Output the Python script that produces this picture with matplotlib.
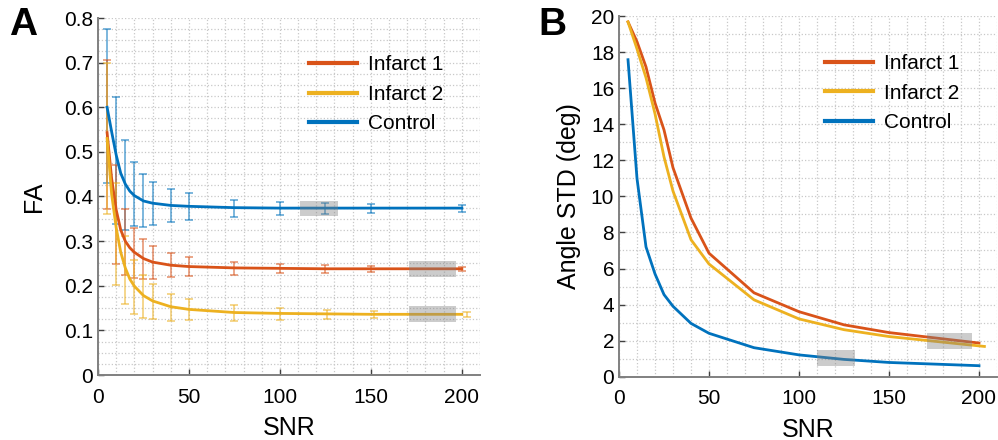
import matplotlib
matplotlib.use('Agg')
import matplotlib.pyplot as plt
from matplotlib.lines import Line2D
from matplotlib.patches import Rectangle
from matplotlib.ticker import MultipleLocator, FuncFormatter

plt.rcParams['font.family'] = ['Liberation Sans', 'DejaVu Sans']

# colours (MATLAB default order)
c_inf1 = '#D95319'
c_inf2 = '#EDB120'
c_ctrl = '#0072BD'

# ---- panel A data: FA vs SNR ----
snr_fit = [5, 7.5, 10, 12.5, 15, 17.5, 20, 25, 30, 40, 50, 75, 100, 125, 150, 200]
fa_fit_inf1 = [0.543, 0.44, 0.37, 0.325, 0.300, 0.285, 0.275, 0.261, 0.253, 0.246, 0.243, 0.240, 0.239, 0.238, 0.238, 0.238]
fa_fit_inf2 = [0.530, 0.405, 0.330, 0.275, 0.240, 0.215, 0.199, 0.178, 0.166, 0.153, 0.147, 0.140, 0.138, 0.137, 0.136, 0.136]
fa_fit_ctrl = [0.600, 0.545, 0.493, 0.452, 0.428, 0.412, 0.402, 0.390, 0.385, 0.380, 0.378, 0.375, 0.374, 0.374, 0.374, 0.374]

snr_pts = [5, 10, 15, 20, 25, 30, 40, 50, 75, 100, 125, 150, 200]
snr_pts_inf2 = [5, 10, 15, 20, 25, 30, 40, 50, 75, 100, 126, 152, 203]
fa_mean_inf1 = [0.540, 0.360, 0.299, 0.274, 0.260, 0.2525, 0.2465, 0.243, 0.2395, 0.2385, 0.238, 0.2375, 0.237]
fa_err_inf1 = [0.167, 0.111, 0.074, 0.056, 0.045, 0.0375, 0.0275, 0.022, 0.0145, 0.011, 0.0093, 0.0077, 0.005]
fa_mean_inf2 = [0.530, 0.316, 0.235, 0.197, 0.176, 0.1645, 0.152, 0.147, 0.139, 0.137, 0.1362, 0.136, 0.1355]
fa_err_inf2 = [0.170, 0.115, 0.077, 0.060, 0.048, 0.040, 0.030, 0.024, 0.017, 0.013, 0.010, 0.008, 0.0065]
fa_mean_ctrl = [0.603, 0.480, 0.426, 0.405, 0.391, 0.385, 0.379, 0.377, 0.374, 0.373, 0.373, 0.373, 0.373]
fa_err_ctrl = [0.173, 0.142, 0.100, 0.072, 0.060, 0.048, 0.037, 0.030, 0.019, 0.0145, 0.012, 0.0095, 0.0075]

# ---- panel B data: angle STD vs SNR ----
snr_b = [5, 10, 15, 20, 25, 30, 40, 50, 75, 100, 125, 150, 200]
snr_b_inf2 = [5, 10, 15, 20, 25, 30, 40, 50, 75, 100, 125, 150, 203]
std_inf1 = [19.7, 18.6, 17.2, 15.2, 13.7, 11.6, 8.8, 6.85, 4.65, 3.6, 2.87, 2.44, 1.86]
std_inf2 = [19.7, 18.2, 16.6, 14.6, 12.2, 10.3, 7.6, 6.25, 4.26, 3.2, 2.6, 2.22, 1.67]
std_ctrl = [17.6, 11.0, 7.2, 5.7, 4.55, 3.9, 2.95, 2.4, 1.6, 1.2, 0.95, 0.78, 0.6]

labels = ['Infarct 1', 'Infarct 2', 'Control']

# highlighted regions (x0, x1, y0, y1)
boxes_a = [(111, 132, 0.356, 0.391), (171, 197, 0.220, 0.256), (171, 197, 0.119, 0.155)]
boxes_b = [(110, 131, 0.6, 1.5), (171, 196, 1.52, 2.41)]


def style_axes(ax):
    for s in ['top', 'right']:
        ax.spines[s].set_visible(False)
    for s in ['left', 'bottom']:
        ax.spines[s].set_color('#808080')
        ax.spines[s].set_linewidth(1.4)
    ax.tick_params(which='major', direction='in', length=4, width=1, color='#404040',
                   labelsize=15)
    ax.tick_params(axis='x', which='major', pad=9)
    ax.tick_params(axis='y', which='major', pad=3.5)
    ax.tick_params(which='minor', length=0)
    ax.grid(True, which='both', linestyle=':', color='#c8c8c8', linewidth=0.9)
    ax.set_axisbelow(True)
    ax.xaxis.set_major_locator(MultipleLocator(50))
    ax.xaxis.set_minor_locator(MultipleLocator(10))
    ax.set_xlim(0, 210)
    ax.set_xlabel('SNR', fontsize=18, labelpad=7)


def add_legend(ax, x0, y0):
    handles = [Line2D([], [], color=c, lw=3) for c in [c_inf1, c_inf2, c_ctrl]]
    ax.legend(handles, labels, loc='upper left', bbox_to_anchor=(x0, y0), frameon=False,
              fontsize=15, handlelength=2.3, handletextpad=0.55, labelspacing=0.5,
              borderpad=0, borderaxespad=0)


fig = plt.figure(figsize=(9.98, 4.4), dpi=100)

# panel A
ax1 = fig.add_axes([98 / 998, 1 - 375 / 440, 382 / 998, 357 / 440])
style_axes(ax1)
ax1.set_ylim(0, 0.8)
ax1.yaxis.set_major_locator(MultipleLocator(0.1))
ax1.yaxis.set_minor_locator(MultipleLocator(0.025))
ax1.yaxis.set_major_formatter(FuncFormatter(lambda v, p: '{:g}'.format(round(v, 2))))
ax1.set_ylabel('FA', fontsize=18, labelpad=13)

for x, m, e, c in [(snr_pts, fa_mean_ctrl, fa_err_ctrl, c_ctrl),
                   (snr_pts, fa_mean_inf1, fa_err_inf1, c_inf1),
                   (snr_pts_inf2, fa_mean_inf2, fa_err_inf2, c_inf2)]:
    ax1.errorbar(x, m, yerr=e, fmt='none', ecolor=c, alpha=0.65, elinewidth=1.1,
                 capsize=3, capthick=1.1, zorder=2)
ax1.plot(snr_fit, fa_fit_ctrl, color=c_ctrl, lw=2, zorder=3)
ax1.plot(snr_fit, fa_fit_inf1, color=c_inf1, lw=2, zorder=3)
ax1.plot(snr_fit, fa_fit_inf2, color=c_inf2, lw=2, zorder=3)
for x0, x1, y0, y1 in boxes_a:
    ax1.add_patch(Rectangle((x0, y0), x1 - x0, y1 - y0, facecolor='#808080',
                            alpha=0.4, edgecolor='none', zorder=4))
add_legend(ax1, 0.552, 0.895)

# panel B
ax2 = fig.add_axes([619 / 998, 1 - 376.5 / 440, 378 / 998, 360 / 440])
style_axes(ax2)
ax2.set_ylim(0, 20)
ax2.yaxis.set_major_locator(MultipleLocator(2))
ax2.yaxis.set_minor_locator(MultipleLocator(1))
ax2.set_ylabel('Angle STD (deg)', fontsize=18, labelpad=7)
ax2.plot(snr_b, std_inf1, color=c_inf1, lw=2, zorder=3)
ax2.plot(snr_b_inf2, std_inf2, color=c_inf2, lw=2, zorder=3)
ax2.plot(snr_b, std_ctrl, color=c_ctrl, lw=2, zorder=3)
for x0, x1, y0, y1 in boxes_b:
    ax2.add_patch(Rectangle((x0, y0), x1 - x0, y1 - y0, facecolor='#808080',
                            alpha=0.4, edgecolor='none', zorder=4))
add_legend(ax2, 0.545, 0.895)

fig.text(9 / 998, 1 - 7 / 440, 'A', fontsize=28, fontweight='bold', va='top', ha='left')
fig.text(538 / 998, 1 - 7 / 440, 'B', fontsize=28, fontweight='bold', va='top', ha='left')

fig.savefig('out.png', dpi=100)
